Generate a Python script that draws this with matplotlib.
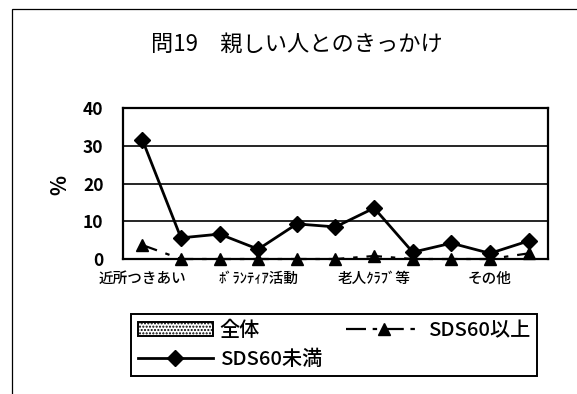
import numpy as np
import matplotlib.pyplot as plt
from matplotlib.patches import Patch, Rectangle
from matplotlib.lines import Line2D

plt.rcParams['font.family'] = ['Noto Sans CJK JP', 'DejaVu Sans']

# 選択肢（表示されるのは3つおき）
tick_labels = ['近所つきあい', '', '', 'ﾎﾞﾗﾝﾃｨｱ活動', '', '',
               '老人ｸﾗﾌﾞ等', '', '', 'その他', '']
# SDS60未満 (%)
sds_under = [31.6, 5.6, 6.6, 2.6, 9.3, 8.5, 13.5, 1.8, 4.2, 1.5, 4.8]
# SDS60以上 (%)
sds_over = [3.7, 0.0, 0.0, 0.0, 0.0, 0.0, 0.8, 0.0, 0.0, 0.0, 1.5]

x = np.arange(len(tick_labels))

fig = plt.figure(figsize=(5.77, 3.94), dpi=100)
ax = fig.add_axes([0.2132, 0.3426, 0.7365, 0.3833])

ax.plot(x, sds_over, color='black', lw=1.6, dashes=(7, 4, 2, 4),
        marker='^', markersize=9, label='SDS60以上', zorder=3, clip_on=False)
ax.plot(x, sds_under, color='black', lw=2, marker='D', markersize=8,
        label='SDS60未満', zorder=4, clip_on=False)

ax.set_xlim(-0.5, len(x) - 0.5)
ax.set_ylim(0, 40)
ax.set_yticks([0, 10, 20, 30, 40])
ax.set_xticks(x)
ax.set_xticklabels(tick_labels, fontsize=10.5, fontweight='medium')
ax.tick_params(axis='y', length=0, labelsize=12.5, pad=14)
ax.tick_params(axis='x', length=0, pad=9)
for lab in ax.get_yticklabels():
    lab.set_fontweight('bold')
ax.grid(axis='y', color='black', lw=1.2)
ax.set_axisbelow(True)
for s in ax.spines.values():
    s.set_linewidth(1.6)
    s.set_color('black')

fig.text(0.104, 0.53, '%', rotation=90, fontsize=15, fontweight='bold',
         ha='center', va='center')
fig.text(0.515, 0.887, '問19　親しい人とのきっかけ', fontsize=16,
         ha='center', va='center')

# 外枠
fig.add_artist(Rectangle((0.021, -0.1), 1.2, 1.077, transform=fig.transFigure,
                         fill=False, edgecolor='black', lw=0.9))

handles = [
    Patch(facecolor='white', edgecolor='black', hatch='.....', lw=1.4, label='全体'),
    Line2D([], [], color='black', lw=2, marker='D', markersize=8, label='SDS60未満'),
    Line2D([], [], color='black', lw=1.6, dashes=(9, 3, 2, 3), marker='^',
           markersize=9, label='SDS60以上'),
]
leg = fig.legend(handles=handles, ncol=2, loc='center',
                 bbox_to_anchor=(0.227, 0.043, 0.704, 0.1625),
                 mode='expand', handlelength=3.7,
                 fancybox=False, edgecolor='black', framealpha=1,
                 borderpad=0.35, labelspacing=0.5, handletextpad=0.35,
                 columnspacing=1.0, borderaxespad=0,
                 prop={'size': 14.5, 'weight': 'medium'})
leg.get_frame().set_linewidth(1.4)

fig.savefig('out.png', dpi=100)
